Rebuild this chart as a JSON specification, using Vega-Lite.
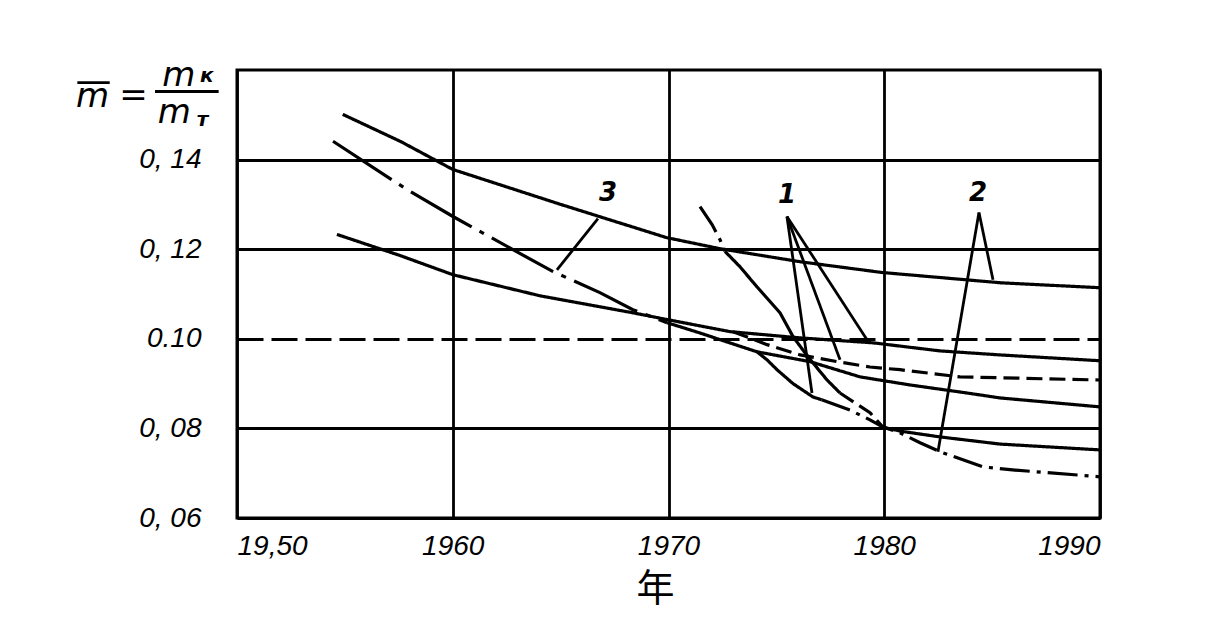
{
  "$schema": "https://vega.github.io/schema/vega-lite/v6.json",
  "width": 863,
  "height": 448,
  "autosize": {"type": "none"},
  "padding": {"left": 237, "top": 70, "right": 123, "bottom": 99},
  "background": "white",
  "config": {
    "view": {"stroke": "black", "strokeWidth": 3},
    "axis": {"domain": false, "ticks": false, "grid": true, "gridColor": "black", "gridWidth": 2.8, "gridOpacity": 1,
      "labelFont": "Liberation Sans", "labelFontStyle": "italic", "labelFontSize": 28, "labelColor": "black"}
  },
  "datasets": {
    "curves": [
      {"s": "A", "st": "solid", "year": 1954.9, "value": 0.1501},
      {"s": "A", "st": "solid", "year": 1957.6, "value": 0.144},
      {"s": "A", "st": "solid", "year": 1960.0, "value": 0.1378},
      {"s": "A", "st": "solid", "year": 1965.0, "value": 0.1300},
      {"s": "A", "st": "solid", "year": 1969.9, "value": 0.1226},
      {"s": "A", "st": "solid", "year": 1972.4, "value": 0.1201},
      {"s": "A", "st": "solid", "year": 1976.1, "value": 0.1172},
      {"s": "A", "st": "solid", "year": 1979.9, "value": 0.1148},
      {"s": "A", "st": "solid", "year": 1985.4, "value": 0.1125},
      {"s": "A", "st": "solid", "year": 1990.0, "value": 0.1114},

      {"s": "B1", "st": "longdashdot", "year": 1954.45, "value": 0.1441},
      {"s": "B1", "st": "longdashdot", "year": 1957.88, "value": 0.1333},
      {"s": "B1", "st": "longdashdot", "year": 1960.01, "value": 0.1273},
      {"s": "B1", "st": "longdashdot", "year": 1962.79, "value": 0.1199},
      {"s": "B1", "st": "longdashdot", "year": 1964.65, "value": 0.1150},
      {"s": "B1", "st": "longdashdot", "year": 1966.82, "value": 0.1103},
      {"s": "B1", "st": "longdashdot", "year": 1968.35, "value": 0.1065},
      {"s": "B1", "st": "longdashdot", "year": 1969.93, "value": 0.1036},

      {"s": "B2", "st": "solid", "year": 1969.93, "value": 0.1036},
      {"s": "B2", "st": "solid", "year": 1971.46, "value": 0.1013},
      {"s": "B2", "st": "solid", "year": 1972.71, "value": 0.0993},
      {"s": "B2", "st": "solid", "year": 1974.1, "value": 0.0971},
      {"s": "B2", "st": "solid", "year": 1974.57, "value": 0.0953},
      {"s": "B2", "st": "solid", "year": 1975.03, "value": 0.0931},
      {"s": "B2", "st": "solid", "year": 1975.77, "value": 0.0900},
      {"s": "B2", "st": "solid", "year": 1976.7, "value": 0.0870},
      {"s": "B2", "st": "solid", "year": 1977.1, "value": 0.0864},

      {"s": "B3", "st": "dashdot", "year": 1977.1, "value": 0.0864},
      {"s": "B3", "st": "dashdot", "year": 1978.41, "value": 0.0841},
      {"s": "B3", "st": "dashdot", "year": 1979.34, "value": 0.0819},
      {"s": "B3", "st": "dashdot", "year": 1979.94, "value": 0.0803},
      {"s": "B3", "st": "dashdot", "year": 1980.73, "value": 0.0790},
      {"s": "B3", "st": "dashdot", "year": 1981.66, "value": 0.0768},
      {"s": "B3", "st": "dashdot", "year": 1982.58, "value": 0.0748},
      {"s": "B3", "st": "dashdot", "year": 1984.58, "value": 0.0714},
      {"s": "B3", "st": "dashdot", "year": 1986.06, "value": 0.0707},
      {"s": "B3", "st": "dashdot", "year": 1990.0, "value": 0.0692},

      {"s": "C", "st": "solid", "year": 1954.63, "value": 0.1233},
      {"s": "C", "st": "solid", "year": 1957.55, "value": 0.1186},
      {"s": "C", "st": "solid", "year": 1960.01, "value": 0.1143},
      {"s": "C", "st": "solid", "year": 1964.04, "value": 0.1096},
      {"s": "C", "st": "solid", "year": 1968.35, "value": 0.1058},
      {"s": "C", "st": "solid", "year": 1969.93, "value": 0.1043},
      {"s": "C", "st": "solid", "year": 1972.85, "value": 0.1016},
      {"s": "C", "st": "solid", "year": 1976.1, "value": 0.1002},
      {"s": "C", "st": "solid", "year": 1979.48, "value": 0.0991},
      {"s": "C", "st": "solid", "year": 1982.58, "value": 0.0973},
      {"s": "C", "st": "solid", "year": 1985.37, "value": 0.0964},
      {"s": "C", "st": "solid", "year": 1990.0, "value": 0.0951},

      {"s": "E", "st": "dashed", "year": 1972.99, "value": 0.1016},
      {"s": "E", "st": "dashed", "year": 1974.57, "value": 0.0987},
      {"s": "E", "st": "dashed", "year": 1976.1, "value": 0.0964},
      {"s": "E", "st": "dashed", "year": 1977.81, "value": 0.0949},
      {"s": "E", "st": "dashed", "year": 1979.34, "value": 0.0937},
      {"s": "E", "st": "dashed", "year": 1980.73, "value": 0.0931},
      {"s": "E", "st": "dashed", "year": 1983.51, "value": 0.0915},
      {"s": "E", "st": "dashed", "year": 1990.0, "value": 0.0908},

      {"s": "F", "st": "solid", "year": 1974.1, "value": 0.0971},
      {"s": "F", "st": "solid", "year": 1976.56, "value": 0.0949},
      {"s": "F", "st": "solid", "year": 1978.88, "value": 0.0915},
      {"s": "F", "st": "solid", "year": 1981.19, "value": 0.0897},
      {"s": "F", "st": "solid", "year": 1983.84, "value": 0.0879},
      {"s": "F", "st": "solid", "year": 1985.37, "value": 0.0868},
      {"s": "F", "st": "solid", "year": 1990.0, "value": 0.0848},

      {"s": "D1", "st": "dashdot", "year": 1971.46, "value": 0.1295},
      {"s": "D1", "st": "dashdot", "year": 1972.02, "value": 0.1255},
      {"s": "D1", "st": "dashdot", "year": 1972.39, "value": 0.1221},
      {"s": "D1", "st": "dashdot", "year": 1972.62, "value": 0.1195},

      {"s": "D2", "st": "solid", "year": 1972.62, "value": 0.1195},
      {"s": "D2", "st": "solid", "year": 1973.31, "value": 0.1161},
      {"s": "D2", "st": "solid", "year": 1974.1, "value": 0.1116},
      {"s": "D2", "st": "solid", "year": 1975.17, "value": 0.1058},
      {"s": "D2", "st": "solid", "year": 1975.77, "value": 0.1005},
      {"s": "D2", "st": "solid", "year": 1976.23, "value": 0.0975},
      {"s": "D2", "st": "solid", "year": 1976.7, "value": 0.0946},
      {"s": "D2", "st": "solid", "year": 1977.35, "value": 0.0908},
      {"s": "D2", "st": "solid", "year": 1977.95, "value": 0.0879},

      {"s": "D3", "st": "dashed", "year": 1977.95, "value": 0.0879},
      {"s": "D3", "st": "dashed", "year": 1979.34, "value": 0.0835},
      {"s": "D3", "st": "dashed", "year": 1979.94, "value": 0.0803},

      {"s": "H", "st": "solid", "year": 1979.94, "value": 0.0803},
      {"s": "H", "st": "solid", "year": 1980.73, "value": 0.0794},
      {"s": "H", "st": "solid", "year": 1982.58, "value": 0.0781},
      {"s": "H", "st": "solid", "year": 1985.37, "value": 0.0765},
      {"s": "H", "st": "solid", "year": 1990.0, "value": 0.0752}
    ],
    "leaders": [
      {"s": "L1a", "year": 1975.49, "value": 0.1273},
      {"s": "L1a", "year": 1976.65, "value": 0.0879},
      {"s": "L1b", "year": 1975.49, "value": 0.1273},
      {"s": "L1b", "year": 1977.95, "value": 0.0953},
      {"s": "L1c", "year": 1975.49, "value": 0.1273},
      {"s": "L1c", "year": 1979.2, "value": 0.0998},
      {"s": "L2a", "year": 1984.39, "value": 0.1282},
      {"s": "L2a", "year": 1985.04, "value": 0.1132},
      {"s": "L2b", "year": 1984.39, "value": 0.1282},
      {"s": "L2b", "year": 1982.49, "value": 0.0748},
      {"s": "L3", "year": 1966.73, "value": 0.1268},
      {"s": "L3", "year": 1964.83, "value": 0.1154}
    ],
    "labels": [
      {"text": "1", "year": 1975.5, "value": 0.1320},
      {"text": "2", "year": 1984.35, "value": 0.1325},
      {"text": "3", "year": 1967.2, "value": 0.1325}
    ],
    "formulaBig": [
      {"text": "m", "year": 1943.3, "value": 0.1540},
      {"text": "=", "year": 1945.2, "value": 0.1543},
      {"text": "m", "year": 1947.3, "value": 0.1586},
      {"text": "m", "year": 1947.1, "value": 0.1505}
    ],
    "formulaSub": [
      {"text": "к", "year": 1948.6, "value": 0.1586},
      {"text": "т", "year": 1948.4, "value": 0.1488}
    ],
    "bar": [
      {"year": 1946.2, "year2": 1949.15, "value": 0.1552},
      {"year": 1942.6, "year2": 1944.1, "value": 0.1572}
    ]
  },
  "layer": [
    {
      "data": {"name": "curves"},
      "mark": {"type": "line", "color": "black", "strokeWidth": 3.2, "clip": true},
      "encoding": {
        "x": {"field": "year", "type": "quantitative",
          "scale": {"domain": [1950, 1990], "nice": false, "zero": false},
          "axis": {"values": [1950, 1960, 1970, 1980, 1990], "format": "d",
            "labelExpr": "datum.value == 1950 ? '19,50' : datum.label",
            "labelPadding": 14,
            "title": "年", "titleFont": "Noto Sans CJK SC", "titleFontSize": 38,
            "titleFontWeight": "normal", "titleColor": "black", "titlePadding": 10, "titleX": 418}},
        "y": {"field": "value", "type": "quantitative",
          "scale": {"domain": [0.06, 0.16], "nice": false, "zero": false},
          "axis": {"values": [0.06, 0.08, 0.1, 0.12, 0.14],
            "labelExpr": "abs(datum.value - 0.1) < 0.001 ? '0.10' : replace(format(datum.value, '.2f'), '.', ', ')",
            "labelPadding": 36,
            "gridDash": {"condition": {"test": "abs(datum.value - 0.1) < 0.001", "value": [26, 8]}, "value": [1, 0]},
            "title": null}},
        "detail": {"field": "s", "type": "nominal"},
        "strokeDash": {"field": "st", "type": "nominal",
          "scale": {"domain": ["solid", "dashdot", "longdashdot", "dashed"],
            "range": [[1, 0], [30, 7, 4, 7], [70, 9, 5, 9], [16, 7]]},
          "legend": null}
      }
    },
    {
      "data": {"name": "leaders"},
      "mark": {"type": "line", "color": "black", "strokeWidth": 2.8},
      "encoding": {
        "x": {"field": "year", "type": "quantitative"},
        "y": {"field": "value", "type": "quantitative"},
        "detail": {"field": "s", "type": "nominal"}
      }
    },
    {
      "data": {"name": "labels"},
      "mark": {"type": "text", "font": "DejaVu Sans", "fontStyle": "italic", "fontWeight": "bold", "fontSize": 26, "color": "black"},
      "encoding": {
        "x": {"field": "year", "type": "quantitative"},
        "y": {"field": "value", "type": "quantitative"},
        "text": {"field": "text"}
      }
    },
    {
      "data": {"name": "formulaBig"},
      "mark": {"type": "text", "font": "DejaVu Sans", "fontStyle": "italic", "fontSize": 34, "color": "black", "align": "center"},
      "encoding": {
        "x": {"field": "year", "type": "quantitative"},
        "y": {"field": "value", "type": "quantitative"},
        "text": {"field": "text"}
      }
    },
    {
      "data": {"name": "formulaSub"},
      "mark": {"type": "text", "font": "DejaVu Sans", "fontStyle": "italic", "fontWeight": "bold", "fontSize": 20, "color": "black", "align": "center"},
      "encoding": {
        "x": {"field": "year", "type": "quantitative"},
        "y": {"field": "value", "type": "quantitative"},
        "text": {"field": "text"}
      }
    },
    {
      "data": {"name": "bar"},
      "mark": {"type": "rule", "color": "black", "strokeWidth": 2.8},
      "encoding": {
        "x": {"field": "year", "type": "quantitative"},
        "x2": {"field": "year2"},
        "y": {"field": "value", "type": "quantitative"}
      }
    }
  ]
}
